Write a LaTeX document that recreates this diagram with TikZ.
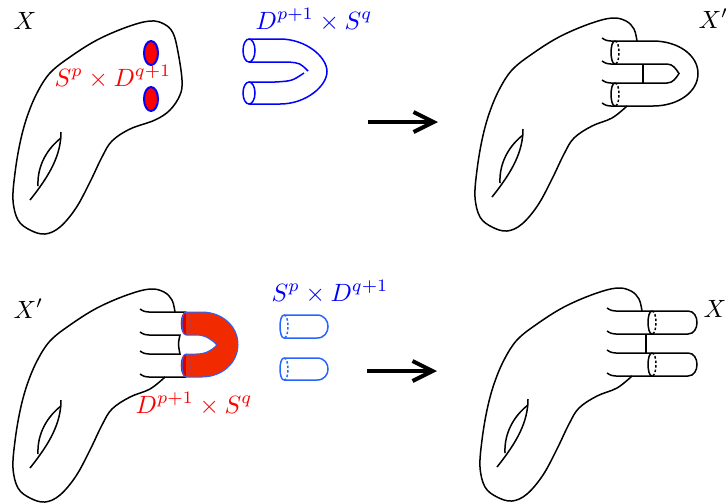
\documentclass[tikz,border=0pt]{standalone}
\usetikzlibrary{arrows.meta}

\definecolor{handlered}{RGB}{242,42,0}
\definecolor{cuffred}{RGB}{215,0,0}
\definecolor{capblue}{RGB}{40,100,255}

% outline of the surface, open where the tubes come out
\newcommand{\blobopen}{%
  \draw[surf] plot[smooth,tension=0.6] coordinates {(165,109) (150,121) (130,129) (112,141) (102,157) (90,182) (76,208) (60,227) (45,234) (30,230) (18,220) (13,200) (15,173) (20,143) (27,117) (37,93) (50,73) (70,57) (97,40) (127,27) (150,21) (164,24) (172,32) (175,44)};}
% the handle of the genus
\newcommand{\blobhole}{%
  \draw[surf] (30,200) .. controls (50,175) and (61,155) .. (61,132);
  \draw[surf] (38,186) .. controls (37,165) and (48,148) .. (61,138);}
% ellipse: solid left half, dashed right half (style, cx, cy, ry)
\newcommand{\cuff}[4]{%
  \draw[#1] (#2,#3-#4) .. controls (#2-5.3,#3-#4) and (#2-5.3,#3+#4) .. (#2,#3+#4);
  \draw[#1,hidden] (#2,#3-#4) .. controls (#2+5.3,#3-#4) and (#2+5.3,#3+#4) .. (#2,#3+#4);}

\begin{document}
\begin{tikzpicture}[x=0.4pt,y=-0.4pt,
  surf/.style={semithick,black},
  hidden/.style={dash pattern=on 1pt off 0.8pt},
  move/.style={line width=1.6pt,-{Straight Barb[length=8pt,width=8pt]}},
  lbl/.style={inner sep=0pt}]
  \useasboundingbox (0,0) rectangle (726,503);

  % Top left: X with two discs
  \draw[surf] plot[smooth cycle,tension=0.6] coordinates {(164,24) (173,33) (178,52) (182,80) (180,95) (170,110) (155,120) (130,129) (112,141) (102,157) (90,182) (76,208) (60,227) (45,234) (30,230) (18,220) (13,200) (15,173) (20,143) (27,117) (37,93) (50,73) (70,57) (97,40) (127,27) (150,21)};
  \blobhole
  \draw[thick,blue,fill=red] (151,53) ellipse (7 and 12);
  \draw[thick,blue,fill=red] (151,99) ellipse (7 and 12);
  \node[lbl,anchor=base west] (lblX) at (13,29) {$X$};
  \node[lbl,anchor=base,red] (lblSD) at (113,86) {$S^p\times D^{q+1}$};

  % Top: the handle D x S
  \draw[semithick,blue] (249,50.5) ellipse (6 and 11.5);
  \draw[semithick,blue] (249,93) ellipse (6 and 11);
  \draw[semithick,blue] (249,39) -- (280,39) .. controls (306,39) and (327,57) .. (327,71.5) .. controls (327,86) and (306,104) .. (280,104) -- (249,104);
  \draw[semithick,blue] (249,62) -- (288,62) .. controls (300,63) .. (308,71);
  \draw[semithick,blue] (249,82) -- (275,82) .. controls (292,81) .. (304,73);
  \node[lbl,anchor=base,blue] (lblDS) at (314,29) {$D^{p+1}\times S^q$};

  % Top arrow
  \coordinate (topfrom) at (368,122);
  \coordinate (topto) at (438,122);
  \draw[move] (topfrom) -- (topto);

  % Top right: X'
  \begin{scope}[shift={(462,-3)}]
    \blobopen
    \blobhole
    \draw[surf] (140,41) .. controls (144,43.5) .. (149,44) -- (191,44) .. controls (216,44) and (236,58) .. (236,76.5) .. controls (236,95) and (216,109) .. (191,109) -- (149,109) .. controls (144,108.5) .. (140,106);
    \draw[surf] (140,64) .. controls (144,66.5) .. (149,67) -- (205,67) .. controls (211,67) and (214,72) .. (217,76.5) .. controls (214,81) and (211,86) .. (205,86) -- (149,86) .. controls (144,85.5) .. (140,83);
    \draw[surf] (181,67) -- (181,86);
    \cuff{surf}{153}{55.5}{11.5}
    \cuff{surf}{153}{97.5}{11.5}
  \end{scope}
  \node[lbl,anchor=base west] (lblXpr) at (698,28) {$X'$};

  % Bottom left: X' with the handle coloured
  \begin{scope}[shift={(0,268)}]
    \blobopen
    \blobhole
    \draw[surf] (140,41) .. controls (144,43.5) .. (149,44) -- (186,44);
    \draw[surf] (140,106) .. controls (144,108.5) .. (149,109) -- (186,109);
    \draw[surf] (140,64) .. controls (144,66.5) .. (149,67) -- (180,67) .. controls (178,76) .. (180,86) -- (149,86) .. controls (144,85.5) .. (140,83);
    \fill[handlered] (186,44) -- (202,44) .. controls (222,44) and (238,58) .. (238,76.5) .. controls (238,95) and (222,109) .. (202,109) -- (186,109) .. controls (179.3,109) and (179.3,86) .. (186,86) -- (196,86) .. controls (206,86) and (212,82) .. (217,77) .. controls (212,72) and (206,67) .. (196,67) -- (186,67) .. controls (179.3,67) and (179.3,44) .. (186,44) -- cycle;
    \fill[cuffred] (186,44) .. controls (179.3,44) and (179.3,67) .. (186,67) -- cycle;
    \fill[cuffred] (186,86) .. controls (179.3,86) and (179.3,109) .. (186,109) -- cycle;
    \draw[capblue] (186,44) -- (202,44) .. controls (222,44) and (238,58) .. (238,76.5) .. controls (238,95) and (222,109) .. (202,109) -- (186,109);
    \draw[capblue] (186,86) -- (196,86) .. controls (206,86) and (212,82) .. (217,77) .. controls (212,72) and (206,67) .. (196,67) -- (186,67);
    \cuff{capblue}{186}{55.5}{11.5}
    \cuff{capblue}{186}{97.5}{11.5}
  \end{scope}
  \node[lbl,anchor=base west] (lblXp) at (13,318) {$X'$};
  \node[lbl,anchor=base,red] (lblDSred) at (194,413) {$D^{p+1}\times S^q$};

  % Bottom: the two caps S x D
  \draw[semithick,capblue] (284,315) -- (317,315) .. controls (331.7,315) and (331.7,338) .. (317,338) -- (284,338);
  \draw[semithick,capblue] (284,358) -- (317,358) .. controls (331.7,358) and (331.7,380) .. (317,380) -- (284,380);
  \cuff{semithick,capblue}{284}{326.5}{11.5}
  \cuff{semithick,capblue}{284}{369}{11}
  \node[lbl,anchor=base,blue] (lblSDblue) at (330,301) {$S^p\times D^{q+1}$};

  % Bottom arrow
  \coordinate (botfrom) at (367,371);
  \coordinate (botto) at (437,371);
  \draw[move] (botfrom) -- (botto);

  % Bottom right: X again
  \begin{scope}[shift={(467,267)}]
    \blobopen
    \blobhole
    \draw[surf] (140,41) .. controls (144,43.5) .. (149,44) -- (221,44) .. controls (233,44) and (233,67) .. (221,67) -- (149,67) .. controls (144,66.5) .. (140,64);
    \draw[surf] (140,83) .. controls (144,85.5) .. (149,86) -- (221,86) .. controls (233,86) and (233,109) .. (221,109) -- (149,109) .. controls (144,108.5) .. (140,106);
    \draw[surf] (179,67) -- (179,86);
    \cuff{surf}{185}{55.5}{11.5}
    \cuff{surf}{185}{97.5}{11.5}
  \end{scope}
  \node[lbl,anchor=base west] (lblXback) at (703,317) {$X$};
\end{tikzpicture}
\end{document}
